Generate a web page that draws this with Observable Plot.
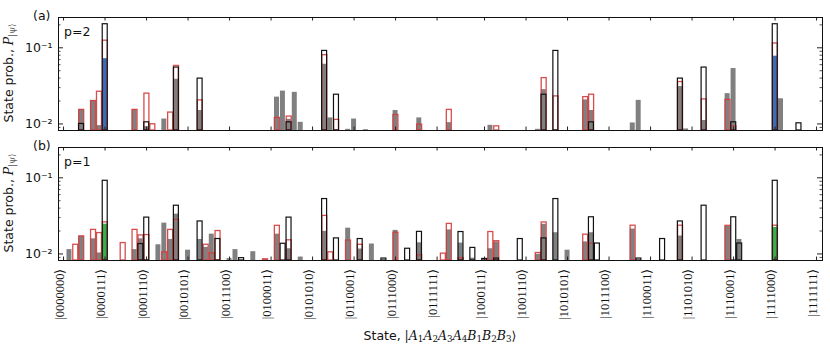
<!DOCTYPE html>
<html><head><meta charset="utf-8">
<script src="https://cdn.jsdelivr.net/npm/d3@7"></script>
<script src="https://cdn.jsdelivr.net/npm/@observablehq/plot@0.6"></script>
<style>
body{margin:0;background:#fff;}
#wrap{position:relative;width:830px;height:352px;font-family:"DejaVu Sans",sans-serif;color:#111;overflow:hidden;}
.pan{position:absolute;left:0;}
.lbl{position:absolute;font-size:12.5px;line-height:1;white-space:nowrap;}
.ytitle{position:absolute;font-size:12.5px;line-height:1;white-space:nowrap;transform:translate(-50%,-50%) rotate(-90deg);}
.m{font-family:"DejaVu Serif",serif;}
.m i{font-family:"DejaVu Serif",serif;font-style:italic;}
sub{font-size:0.7em;vertical-align:-0.25em;}
</style></head><body><div id="wrap"></div>
<script>
// ---------- data ----------
const tickStates = [0,7,14,21,28,35,42,49,56,63,71,78,85,92,99,106,113,120,127];
const tickLabels = ["|0000000⟩","|0000111⟩","|0001110⟩","|0010101⟩","|0011100⟩","|0100011⟩","|0101010⟩","|0110001⟩","|0111000⟩","|0111111⟩","|1000111⟩","|1001110⟩","|1010101⟩","|1011100⟩","|1100011⟩","|1101010⟩","|1110001⟩","|1111000⟩","|1111111⟩"];
const targetStates = [7, 120];

// panel (a), p=2 : [state, probability]
const grayA = [[3,0.0153],[5,0.020],[6,0.0095],[7,0.072],[12,0.0153],[14,0.0092],[17,0.0116],[19,0.0386],[23,0.015],[36,0.0225],[37,0.027],[38,0.0115],[39,0.026],[40,0.0105],[44,0.0608],[45,0.012],[48,0.0085],[49,0.0116],[51,0.0084],[56,0.015],[60,0.012],[65,0.0104],[72,0.0096],[80,0.0085],[81,0.0282],[88,0.0207],[89,0.015],[96,0.0103],[97,0.0204],[104,0.031],[105,0.0086],[108,0.0111],[112,0.025],[113,0.0534],[120,0.0776],[121,0.0214]];
const redA = [[3,0.0153],[5,0.020],[6,0.0265],[7,0.124],[12,0.0153],[14,0.025],[15,0.0099],[18,0.0141],[19,0.0578],[23,0.0204],[36,0.012],[38,0.0125],[44,0.080],[46,0.0113],[56,0.0131],[60,0.0098],[65,0.0153],[73,0.0093],[81,0.040],[83,0.023],[88,0.0225],[89,0.0242],[104,0.0355],[108,0.021],[112,0.0207],[113,0.0093],[120,0.114]];
const blackA = [[3,0.010],[7,0.204],[14,0.0105],[19,0.055],[23,0.0394],[38,0.0105],[44,0.091],[46,0.0242],[81,0.0242],[83,0.091],[89,0.0105],[104,0.0394],[108,0.055],[113,0.0105],[120,0.204],[124,0.0102]];

// panel (b), p=1
const grayB = [[1,0.0114],[3,0.017],[5,0.0158],[6,0.0103],[7,0.0246],[12,0.0114],[13,0.0158],[16,0.0132],[17,0.0254],[18,0.0155],[19,0.0333],[21,0.0112],[23,0.0155],[24,0.0122],[25,0.0182],[28,0.0087],[29,0.0114],[32,0.0107],[36,0.0182],[38,0.0117],[40,0.0091],[44,0.0198],[48,0.0218],[50,0.0116],[52,0.0135],[56,0.0204],[60,0.014],[65,0.0207],[67,0.0139],[69,0.0088],[72,0.0117],[73,0.0144],[80,0.0099],[81,0.0245],[83,0.019],[85,0.0112],[88,0.0144],[89,0.019],[96,0.0212],[104,0.0172],[112,0.023],[114,0.0155],[120,0.0223]];
const redB = [[2,0.0132],[3,0.017],[5,0.0207],[6,0.0188],[7,0.026],[10,0.0139],[12,0.0207],[13,0.0175],[14,0.0177],[17,0.0105],[18,0.0207],[19,0.028],[24,0.0132],[25,0.0102],[26,0.020],[34,0.0085],[36,0.0234],[38,0.0151],[44,0.0316],[45,0.0105],[48,0.015],[50,0.0132],[56,0.019],[60,0.0096],[64,0.0101],[65,0.0248],[67,0.0088],[72,0.0194],[73,0.0147],[80,0.0103],[81,0.0259],[88,0.0179],[89,0.0137],[96,0.0235],[104,0.0235],[112,0.0234],[120,0.0235]];
const blackB = [[7,0.0914],[13,0.0135],[14,0.030],[19,0.043],[23,0.0267],[26,0.0157],[30,0.0088],[37,0.0136],[38,0.030],[44,0.0526],[46,0.016],[50,0.0157],[54,0.0087],[58,0.0117],[60,0.0195],[67,0.0194],[69,0.012],[71,0.0086],[73,0.0087],[77,0.0157],[81,0.016],[83,0.0526],[89,0.0303],[90,0.0137],[97,0.0087],[101,0.0157],[104,0.0267],[108,0.043],[113,0.0303],[114,0.0137],[120,0.0914]];

const yMajor = [0.01, 0.1];
const yMajorLabels = ["10⁻²", "10⁻¹"];
const yMinor = [0.009,0.02,0.03,0.04,0.05,0.06,0.07,0.08,0.09,0.2];

// ---------- drawing ----------
const X_DOMAIN = [-0.85, 128];
const Y_DOMAIN = [0.0082, 0.25];
const HW = 0.42;
const W = 830, ML = 58, MR = 8, MT = 17, PH = 113;
const pxPerState = (W - ML - MR) / (X_DOMAIN[1] - X_DOMAIN[0]);
const decades = Math.log10(Y_DOMAIN[1] / Y_DOMAIN[0]);
const pxPerDecade = PH / decades;
const yUp = px => Y_DOMAIN[0] * Math.pow(10, px / pxPerDecade);
const yDown = px => Y_DOMAIN[1] / Math.pow(10, px / pxPerDecade);
const xIn = px => X_DOMAIN[0] + px / pxPerState;
const xInR = px => X_DOMAIN[1] - px / pxPerState;

function rows(arr) { return arr.map(([s, v]) => ({s, v})); }

function panel({gray, red, black, accentColor, showX, height, marginBottom}) {
  const g = rows(gray), r = rows(red), b = rows(black);
  const barOpts = {x1: d => d.s - HW, x2: d => d.s + HW, y1: () => Y_DOMAIN[0], y2: "v"};
  const marks = [
    Plot.rect(g.filter(d => !targetStates.includes(d.s)), {...barOpts, fill: "#808080"}),
    Plot.rect(g.filter(d => targetStates.includes(d.s)), {...barOpts, fill: accentColor}),
    Plot.rect(r, {...barOpts, x1: d => d.s - HW + 0.06, x2: d => d.s + HW + 0.06, fill: "none", stroke: "#d33a3a", strokeWidth: 1.3, strokeOpacity: 0.9}),
    Plot.rect(b, {...barOpts, x1: d => d.s - HW + 0.03, x2: d => d.s + HW + 0.03, fill: "none", stroke: "#111", strokeWidth: 1.2}),
    // x ticks (inward, top & bottom)
    Plot.ruleX(tickStates, {x: d => d, y1: () => Y_DOMAIN[0], y2: () => yUp(3.5), stroke: "#222"}),
    Plot.ruleX(tickStates, {x: d => d, y1: () => Y_DOMAIN[1], y2: () => yDown(3.5), stroke: "#222"}),
    // y ticks (inward, left & right)
    Plot.ruleY(yMajor, {y: d => d, x1: () => X_DOMAIN[0], x2: () => xIn(5), stroke: "#222"}),
    Plot.ruleY(yMajor, {y: d => d, x1: () => X_DOMAIN[1], x2: () => xInR(5), stroke: "#222"}),
    Plot.ruleY(yMinor, {y: d => d, x1: () => X_DOMAIN[0], x2: () => xIn(2.5), stroke: "#222", strokeWidth: 0.8}),
    Plot.ruleY(yMinor, {y: d => d, x1: () => X_DOMAIN[1], x2: () => xInR(2.5), stroke: "#222", strokeWidth: 0.8}),
    Plot.frame({stroke: "#111", strokeWidth: 1}),
    Plot.axisY(yMajor, {tickSize: 0, tickPadding: 6, tickFormat: (d, i) => yMajorLabels[yMajor.indexOf(d)], fontSize: 12.5, label: null})
  ];
  if (showX) {
    marks.push(Plot.text(tickStates, {x: d => d, frameAnchor: "bottom", dy: 8, rotate: -90, textAnchor: "end",
      text: d => tickLabels[tickStates.indexOf(d)], fontFamily: "'Liberation Serif', serif", fontSize: 12.5, fill: "#111"}));
  }
  return Plot.plot({
    width: W, height, marginLeft: ML, marginRight: MR, marginTop: MT, marginBottom,
    style: {fontFamily: "DejaVu Sans, sans-serif", color: "#111", background: "transparent", overflow: "visible"},
    x: {domain: X_DOMAIN, axis: null},
    y: {type: "log", domain: Y_DOMAIN, axis: null},
    marks
  });
}

const wrap = document.getElementById("wrap");
const pa = panel({gray: grayA, red: redA, black: blackA, accentColor: "#3b6cb7", showX: false, height: 135, marginBottom: 5});
pa.classList.add("pan"); pa.style.top = "0px"; wrap.appendChild(pa);
const pb = panel({gray: grayB, red: redB, black: blackB, accentColor: "#35b04b", showX: true, height: 222, marginBottom: 92});
pb.classList.add("pan"); pb.style.top = "130px"; wrap.appendChild(pb);

function addHTML(cls, html, css) {
  const d = document.createElement("div"); d.className = cls; d.innerHTML = html;
  Object.assign(d.style, css); wrap.appendChild(d); return d;
}
addHTML("lbl", "(a)", {left: "33px", top: "10px"});
addHTML("lbl", "(b)", {left: "33px", top: "140px"});
addHTML("lbl", "p=2", {left: "64px", top: "26px"});
addHTML("lbl", "p=1", {left: "64px", top: "156px"});
const yt = 'State prob., <span class="m"><i>P</i><sub style="color:#555">|ψ⟩</sub></span>';
addHTML("ytitle", yt, {left: "10px", top: "73px"});
addHTML("ytitle", yt, {left: "10px", top: "203px"});
addHTML("lbl", 'State, <span class="m">|<i>A</i><sub>1</sub><i>A</i><sub>2</sub><i>A</i><sub>3</sub><i>A</i><sub>4</sub><i>B</i><sub>1</sub><i>B</i><sub>2</sub><i>B</i><sub>3</sub>⟩</span>',
  {left: "440px", top: "330px", transform: "translateX(-50%)"});
</script></body></html>
